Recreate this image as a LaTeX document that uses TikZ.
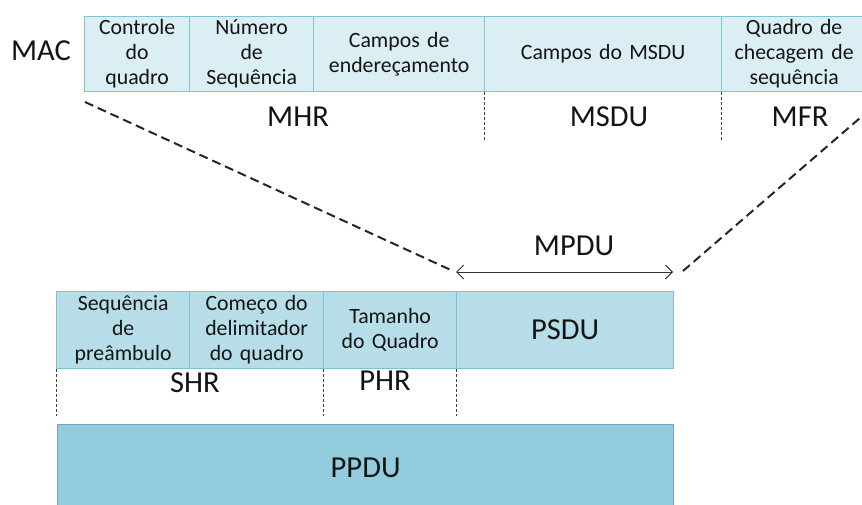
\documentclass[tikz,border=0pt]{standalone}
\usepackage{fontspec}
\setmainfont{Carlito}
\usetikzlibrary{arrows.meta}
\definecolor{topfill}{HTML}{DBEEF4}
\definecolor{topline}{HTML}{86C3D4}
\definecolor{lowfill}{HTML}{B7DEE8}
\definecolor{lowline}{HTML}{7FBFD2}
\definecolor{ppdufill}{HTML}{93CDDD}
\definecolor{ppduline}{HTML}{7A9ED4}
\definecolor{txt}{HTML}{141414}
\tikzset{
  cell/.style={draw=topline, fill=topfill, line width=1.3pt, anchor=north west,
    minimum height=75pt, inner sep=0pt, align=center, text=txt,
    font=\fontsize{21.8}{25}\selectfont},
  lowcell/.style={cell, draw=lowline, fill=lowfill, minimum height=77pt},
  big/.style={text=txt, font=\fontsize{30.5}{34}\selectfont, inner sep=0pt},
  dashline/.style={line width=2pt, dash pattern=on 9pt off 5pt, black!85},
  dotline/.style={line width=0.9pt, dash pattern=on 3pt off 2pt, black!75},
  spanarrow/.style={line width=0.9pt, black!80, {Straight Barb[length=7pt,width=14pt]}-{Straight Barb[length=7pt,width=14pt]}}
}
\begin{document}
\begin{tikzpicture}[x=1pt,y=-1pt]
\useasboundingbox (0,0) rectangle (862,505);
\clip (0,0) rectangle (862,505);
% MAC row
\node[big, anchor=center] (mac) at (41,51) {MAC};
\node[cell, minimum width=105pt, text width=100pt] (c1) at (84,16) {Controle\\do\\quadro};
\node[cell, minimum width=124pt, text width=120pt] (c2) at (189,16) {Número\\de\\Sequência};
\node[cell, minimum width=171pt, text width=165pt] (c3) at (313,16) {Campos de\\endereçamento};
\node[cell, minimum width=237pt, text width=230pt] (c4) at (484,16) {Campos do MSDU};
\node[cell, minimum width=145pt, text width=138pt] (c5) at (721,16) {Quadro de\\checagem de\\sequência};
% labels under MAC
\node[big] (mhr) at (298,117) {MHR};
\node[big] (msdu) at (609,117) {MSDU};
\node[big] (mfr) at (800,117) {MFR};
\coordinate (d1a) at (484,92); \coordinate (d1b) at (484,140);
\coordinate (d2a) at (721,92); \coordinate (d2b) at (721,140);
\draw[dotline] (d1a) -- (d1b);
\draw[dotline] (d2a) -- (d2b);
% lower row
\node[lowcell, minimum width=133pt, text width=130pt] (l1) at (56,291) {Sequência\\de\\preâmbulo};
\node[lowcell, minimum width=134pt, text width=132pt] (l2) at (189,291) {Começo do\\delimitador\\do quadro};
\node[lowcell, minimum width=133pt, text width=130pt] (l3) at (323,291) {Tamanho\\do Quadro};
\node[lowcell, minimum width=217pt, text width=210pt, font=\fontsize{30.5}{34}\selectfont] (l4) at (456,291) {PSDU};
\node[big] (shr) at (195,383) {SHR};
\node[big] (phr) at (385,381) {PHR};
\coordinate (e1a) at (56,369); \coordinate (e1b) at (56,416);
\coordinate (e2a) at (323,369); \coordinate (e2b) at (323,416);
\coordinate (e3a) at (456,369); \coordinate (e3b) at (456,416);
\draw[dotline] (e1a) -- (e1b);
\draw[dotline] (e2a) -- (e2b);
\draw[dotline] (e3a) -- (e3b);
% PPDU
\node[cell, draw=ppduline, fill=ppdufill, minimum width=616pt, minimum height=86pt,
      font=\fontsize{30.5}{34}\selectfont] (ppdu) at (57,424) {PPDU};
% MPDU span
\coordinate (mpl) at (456,272);
\coordinate (mpr) at (673,272);
\draw[spanarrow] (mpl) -- (mpr);
\node[big] (mpdu) at (574,246) {MPDU};
% dashed expansion lines
\coordinate (ls) at (85,102);
\coordinate (le) at (453,271);
\coordinate (rs) at (683,271);
\coordinate (re) at (860,118);
\draw[dashline] (ls) -- (le);
\draw[dashline] (rs) -- (re);
\end{tikzpicture}
\end{document}
